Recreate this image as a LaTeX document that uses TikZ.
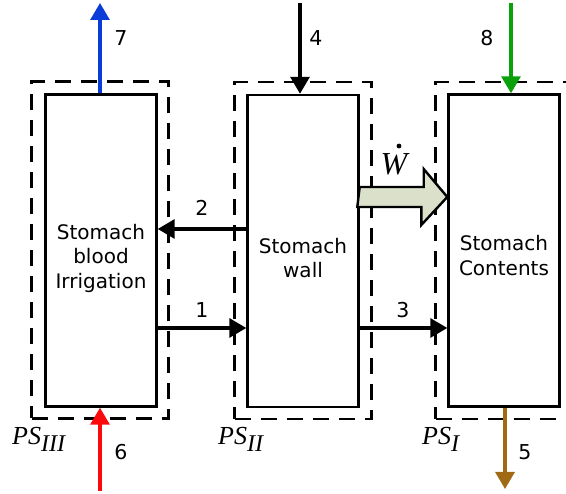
\documentclass[tikz,border=0pt]{standalone}
\usepackage{fontspec}
\setmainfont{DejaVu Sans}
\newfontfamily\timesf{Liberation Serif}
\usetikzlibrary{arrows.meta,calc}
\definecolor{fblue}{RGB}{10,60,215}
\definecolor{fred}{RGB}{250,10,10}
\definecolor{fgreen}{RGB}{10,160,10}
\definecolor{fbrown}{RGB}{160,105,20}
\definecolor{wfill}{RGB}{218,224,202}
\begin{document}
\begin{tikzpicture}[x=1pt,y=1pt,
  box/.style={draw, line width=2.4pt, minimum width=111pt, minimum height=312pt, inner sep=0pt},
  sysb/.style={draw, line width=2.4pt, dash pattern=on 16pt off 10pt, minimum width=137pt, minimum height=337pt, inner sep=0pt},
  lbl/.style={font=\fontsize{20}{24.5}\selectfont, align=center, inner sep=0pt},
  num/.style={font=\fontsize{20.5}{24}\selectfont, inner sep=0pt},
  flow/.style={line width=3.2pt, -{Triangle[length=17pt,width=19pt]}},
  ps/.style={font=\fontsize{26}{30}\selectfont\timesf\itshape, anchor=base west, inner sep=0pt}
]
\useasboundingbox (0,0) rectangle (566,494);

% dashed system boundaries
\node[sysb] (dl) at (100,244) {};
\node[sysb] (dm) at (303,243.5) {};
\node[sysb] (dr) at (504,243.5) {};

% solid boxes
\node[box, fill=white] (L) at (101,243.5) {};
\node[box, fill=white] (M) at (303,243) {};
\node[box, fill=white] (R) at (504,243.5) {};

\node[lbl] (tl) at (101,236) {Stomach\\blood\\Irrigation};
\node[lbl] (tm) at (303,236) {Stomach\\wall};
\node[lbl] (tr) at (504,238.5) {Stomach\\Contents};

% free ends
\coordinate (e7) at (100,491);
\coordinate (e4) at (300,491);
\coordinate (e8) at (511,491);
\coordinate (e6) at (100,3);
\coordinate (e5) at (505,5);

\draw[flow, fblue] ($(L.north)+(-1,0)$) -- (e7);
\draw[flow] (e4) -- (e4 |- M.north);
\draw[flow, fgreen] (e8) -- (e8 |- R.north);
\draw[flow, fred] (e6) -- (e6 |- L.south);
\draw[flow, fbrown] (e5 |- R.south) -- (e5);

\draw[flow] ($(M.west)+(0,22)$) -- ($(L.east)+(0,21.5)$);
\draw[flow] ($(L.east)+(0,-77.5)$) -- ($(M.west)+(0,-77)$);
\draw[flow] ($(M.east)+(0,-77)$) -- ($(R.west)+(0,-77.5)$);

% work arrow
\coordinate (w0) at ($(M.east)+(0,54)$);
\draw[line width=2.4pt, fill=wfill, line join=miter]
  (w0) ++(0,10) -- ++(64,0) -- ++(0,18) -- (R.west |- w0) -- ++(-26,-28) -- ++(0,18) -- ++(-64,0) -- cycle;
\node[font=\fontsize{32}{36}\selectfont\timesf\itshape, anchor=base, inner sep=0pt] (W) at (394,319) {W};
\fill (399,348) circle (2.4pt);

% numbers
\node[num] (n7) at (121,456) {7};
\node[num] (n4) at (316,456) {4};
\node[num] (n8) at (487,456) {8};
\node[num] (n6) at (121,42) {6};
\node[num] (n5) at (525,42) {5};
\node[num] (n2) at (202,286) {2};
\node[num] (n1) at (202,184) {1};
\node[num] (n3) at (403,184) {3};

% PS labels
\node[ps] (p3) at (12,49) {PS\raisebox{-7pt}{\fontsize{24}{28}\selectfont III}};
\node[ps] (p2) at (218,49) {PS\raisebox{-7pt}{\fontsize{24}{28}\selectfont II}};
\node[ps] (p1) at (422,49) {PS\raisebox{-7pt}{\fontsize{24}{28}\selectfont I}};
\end{tikzpicture}
\end{document}
